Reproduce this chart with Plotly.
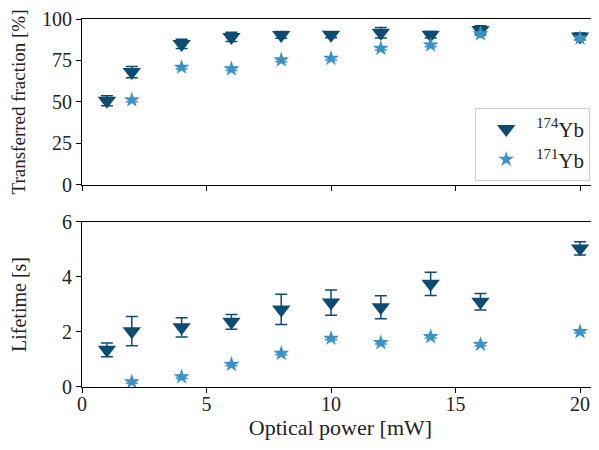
import plotly.graph_objects as go
from plotly.subplots import make_subplots

# Data
power_174 = [1, 2, 4, 6, 8, 10, 12, 14, 16, 20]
frac_174 = [50.7, 68.0, 85.0, 89.2, 90.4, 90.5, 91.7, 90.5, 93.4, 89.5]
frac_174_err = [3.0, 3.4, 2.8, 2.8, 2.0, 1.8, 3.2, 2.0, 2.5, 2.0]
power_171 = [2, 4, 6, 8, 10, 12, 14, 16, 20]
frac_171 = [51.2, 70.9, 69.9, 75.3, 76.3, 82.3, 84.3, 91.0, 88.4]
frac_171_err = [1.0, 1.0, 1.0, 1.0, 1.0, 1.0, 1.0, 1.0, 1.0]

life_174 = [1.35, 2.03, 2.17, 2.37, 2.82, 3.07, 2.90, 3.75, 3.10, 5.04]
life_174_err = [0.25, 0.53, 0.35, 0.27, 0.55, 0.46, 0.42, 0.42, 0.30, 0.24]
life_171 = [0.19, 0.37, 0.82, 1.22, 1.77, 1.61, 1.83, 1.55, 2.01]
life_171_err = [0.05, 0.05, 0.05, 0.05, 0.05, 0.05, 0.05, 0.05, 0.05]

c174 = "#0e4b72"
c171 = "#3b92c6"
font_family = "Liberation Serif"

fig = make_subplots(rows=2, cols=1, shared_xaxes=False, vertical_spacing=0.1)

def add(x, y, err, color, symbol, size, name, row, showlegend):
    fig.add_trace(go.Scatter(
        x=x, y=y, mode="markers", name=name, showlegend=showlegend,
        marker=dict(symbol=symbol, size=size, color=color, line=dict(width=0)),
        error_y=dict(type="data", array=err, visible=True, color=color,
                     thickness=1.5, width=6),
    ), row=row, col=1)

add(power_174, frac_174, frac_174_err, c174, "triangle-down", 16, "<sup>174</sup>Yb", 1, True)
add(power_171, frac_171, frac_171_err, c171, "star", 12, "<sup>171</sup>Yb", 1, True)
add(power_174, life_174, life_174_err, c174, "triangle-down", 16, "<sup>174</sup>Yb", 2, False)
add(power_171, life_171, life_171_err, c171, "star", 12, "<sup>171</sup>Yb", 2, False)

axis_common = dict(showgrid=False, zeroline=False, showline=True, linecolor="black",
                   linewidth=1, ticks="outside", ticklen=5, tickcolor="black",
                   automargin=False, tickfont=dict(size=20))

fig.update_xaxes(**axis_common, range=[0, 20.76], tickvals=[0, 5, 10, 15, 20], mirror=True)
fig.update_xaxes(showticklabels=False, row=1, col=1)
fig.update_xaxes(title=dict(text="Optical power [mW]", standoff=2, font=dict(size=22)),
                 ticklabelstandoff=-6, row=2, col=1)
fig.update_yaxes(**axis_common)
fig.update_yaxes(range=[0, 100], tickvals=[0, 25, 50, 75, 100],
                 title=dict(text="Transferred fraction [%]", standoff=12, font=dict(size=19)),
                 domain=[0.549, 1.0], row=1, col=1)
fig.update_yaxes(range=[0, 6], tickvals=[0, 2, 4, 6],
                 title=dict(text="Lifetime [s]", standoff=32, font=dict(size=20)),
                 domain=[0.0, 0.4484], row=2, col=1)

# The page body adds an 8 px offset, so the figure is drawn 8 px smaller
fig.update_layout(
    width=591, height=442,
    margin=dict(l=74, r=0, t=11, b=63),
    paper_bgcolor="white", plot_bgcolor="white",
    font=dict(family=font_family, size=20, color="#222222"),
    legend=dict(x=0.983, y=0.56, xanchor="right", yanchor="bottom",
                bgcolor="white", bordercolor="#cccccc", borderwidth=1,
                itemwidth=50, font=dict(size=21)),
)

fig.write_html("out.html")
